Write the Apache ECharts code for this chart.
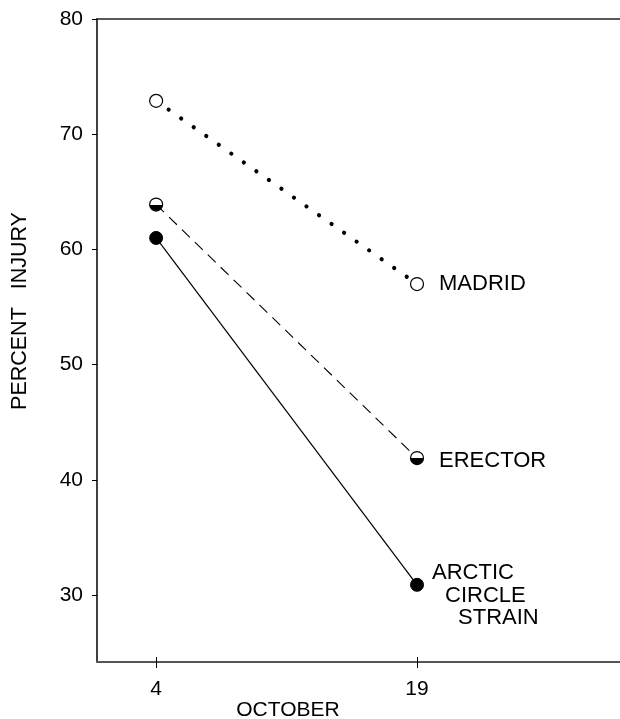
<!DOCTYPE html>
<html>
<head>
<meta charset="utf-8">
<script src="https://cdn.jsdelivr.net/npm/echarts@6/dist/echarts.min.js"></script>
<style>
html,body{margin:0;padding:0;background:#fff;}
#chart{width:620px;height:719px;}
</style>
</head>
<body>
<div id="chart"></div>
<script>
// Data
const days = [4, 19];
const madrid = [72.9, 57.0];
const erector = [63.9, 41.9];
const arctic = [61.0, 30.9];
const yTicks = [30, 40, 50, 60, 70, 80];
const xTicks = [4, 19];
const seriesNames = ['MADRID', 'ERECTOR', 'ARCTIC CIRCLE STRAIN'];

const FONT = 'Liberation Sans, Arial, Helvetica, sans-serif';
const chart = echarts.init(document.getElementById('chart'), null, {renderer: 'canvas'});

function pairs(vals) { return days.map((d, i) => [d, vals[i]]); }

const xMin = 0.6, xMax = 30.67;

const halfFill = {
  type: 'linear', x: 0, y: 0, x2: 0, y2: 1,
  colorStops: [
    {offset: 0, color: '#fff'}, {offset: 0.5, color: '#fff'},
    {offset: 0.5, color: '#000'}, {offset: 1, color: '#000'}
  ]
};

function lastLabel(text, opts) {
  return Object.assign({
    show: true, position: 'right', formatter: text,
    fontFamily: FONT, fontSize: 22, color: '#000'
  }, opts);
}

chart.setOption({
  animation: false,
  backgroundColor: '#fff',
  grid: {left: 97, right: -3, top: 19, bottom: 57, containLabel: false},
  xAxis: [
    {
      type: 'value', min: xMin, max: xMax, position: 'bottom',
      axisLine: {show: true, lineStyle: {color: '#555', width: 2}},
      axisTick: {show: true, inside: false, length: 6, customValues: xTicks, lineStyle: {color: '#000', width: 1}},
      axisLabel: {show: true, customValues: xTicks, fontFamily: FONT, fontSize: 21, color: '#000', margin: 17},
      splitLine: {show: false}
    },
    {
      type: 'value', min: xMin, max: xMax, position: 'top',
      axisLine: {show: true, onZero: false, lineStyle: {color: '#222', width: 1.5}},
      axisTick: {show: false}, axisLabel: {show: false}, splitLine: {show: false}
    },
    {
      type: 'value', min: xMin, max: xMax, position: 'bottom',
      axisLine: {show: false},
      axisTick: {show: true, inside: true, length: 5, customValues: xTicks, lineStyle: {color: '#000', width: 1}},
      axisLabel: {show: false}, splitLine: {show: false}
    }
  ],
  yAxis: {
    type: 'value', min: 24.2, max: 80,
    axisLine: {show: true, onZero: false, lineStyle: {color: '#000', width: 1.5}},
    axisTick: {show: true, inside: false, length: 5, customValues: yTicks, lineStyle: {color: '#000', width: 1}},
    axisLabel: {show: true, customValues: yTicks, fontFamily: FONT, fontSize: 21, color: '#000', margin: 14},
    splitLine: {show: false}
  },
  graphic: [
    {
      type: 'text', x: 20, y: 311, rotation: Math.PI / 2,
      style: {text: 'PERCENT   INJURY', font: '21.5px ' + FONT, fill: '#000', align: 'center', verticalAlign: 'middle'}
    },
    {
      type: 'text', x: 288, y: 710,
      style: {text: 'OCTOBER', font: '21px ' + FONT, fill: '#000', align: 'center', verticalAlign: 'middle'}
    }
  ],
  series: [
    {
      name: seriesNames[0], type: 'line', data: pairs(madrid),
      symbol: 'circle', symbolSize: 13,
      itemStyle: {color: '#fff', borderColor: '#000', borderWidth: 1.2},
      lineStyle: {color: '#000', width: 4.2, type: [0.01, 15.3], cap: 'round'},
      label: {show: false},
      endLabel: lastLabel(seriesNames[0], {distance: 22, offset: [0, 0]}),
      z: 3
    },
    {
      name: seriesNames[1], type: 'line', data: pairs(erector),
      symbol: 'circle', symbolSize: 13,
      itemStyle: {color: halfFill, borderColor: '#000', borderWidth: 1.2},
      lineStyle: {color: '#000', width: 1.1, type: [11, 7]},
      endLabel: lastLabel(seriesNames[1], {distance: 22, offset: [0, 3]}),
      z: 3
    },
    {
      name: seriesNames[2], type: 'line', data: pairs(arctic),
      symbol: 'circle', symbolSize: 13,
      itemStyle: {color: '#000', borderColor: '#000', borderWidth: 1},
      lineStyle: {color: '#000', width: 1.2, type: 'solid'},
      endLabel: lastLabel('{a|ARCTIC}\n{b|CIRCLE}\n{c|STRAIN}', {
        distance: 15, offset: [0, 11], lineHeight: 22.5,
        rich: {
          a: {fontFamily: FONT, fontSize: 22, color: '#000', lineHeight: 22.5, padding: [0, 0, 0, 0]},
          b: {fontFamily: FONT, fontSize: 22, color: '#000', lineHeight: 22.5, padding: [0, 0, 0, 13]},
          c: {fontFamily: FONT, fontSize: 22, color: '#000', lineHeight: 22.5, padding: [0, 0, 0, 26]}
        }
      }),
      z: 3
    }
  ]
});
</script>
</body>
</html>
